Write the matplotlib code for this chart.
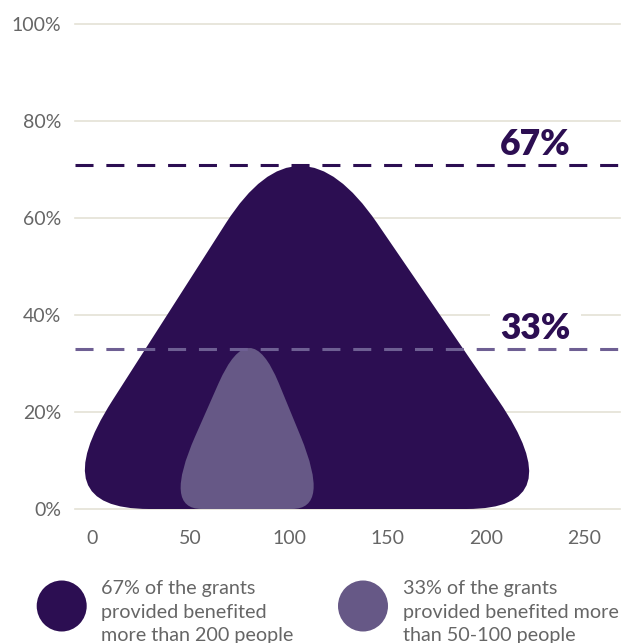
import matplotlib
matplotlib.use('Agg')
import matplotlib.pyplot as plt
from matplotlib.path import Path
from matplotlib.patches import PathPatch, Ellipse

plt.rcParams['font.family'] = ['Lato', 'DejaVu Sans']

# axis ticks
x_ticks = [0, 50, 100, 150, 200, 250]
y_ticks = [0, 20, 40, 60, 80, 100]
y_tick_labels = ['0%', '20%', '40%', '60%', '80%', '100%']

# the two rounded triangles (x of base ends, x / height of apex)
base_left = [-25, 36]
base_right = [244, 121]
apex_x = [105, 80]
apex_y = [82.5, 40.5]

# visible top of each shape and its label
top_levels = [71, 33]
top_labels = ['67%', '33%']

legend_texts = ['67% of the grants\nprovided benefited\nmore than 200 people',
                '33% of the grants\nprovided benefited more\nthan 50-100 people']

DARK = '#2c0e52'
LIGHT = '#665886'
colors = [DARK, LIGHT]
dash_colors = [DARK, '#6e5f93']
GRID = '#e4e2d6'
TEXT = '#666666'


def lerp(p, q, t):
    return (p[0] + (q[0] - p[0]) * t, p[1] + (q[1] - p[1]) * t)


# triangle with quadratic rounded corners
def rounded_triangle(x0, x1, xc, h, f_top, f_side, f_base):
    a = (x0, 0)
    b = (x1, 0)
    c = (xc, h)
    verts = [lerp(a, b, f_base), lerp(b, a, f_base),
             b, lerp(b, c, f_side),
             lerp(c, b, f_top),
             c, lerp(c, a, f_top),
             lerp(a, c, f_side),
             a, lerp(a, b, f_base),
             (0, 0)]
    codes = [Path.MOVETO, Path.LINETO,
             Path.CURVE3, Path.CURVE3,
             Path.LINETO,
             Path.CURVE3, Path.CURVE3,
             Path.LINETO,
             Path.CURVE3, Path.CURVE3,
             Path.CLOSEPOLY]
    return Path(verts, codes)


f_top = [0.285, 0.36]
f_side = [0.27, 0.37]
f_base = [0.2, 0.23]

fig = plt.figure(figsize=(6.4, 6.43), dpi=100)
ax = fig.add_axes([74.5 / 640, 1 - 509 / 643, 545.5 / 640, 485 / 643])
ax.set_xlim(-9, 268)
ax.set_ylim(0, 100)

for y in y_ticks:
    ax.axhline(y, color=GRID, lw=1.2, zorder=0, clip_on=False)

for i in range(2):
    p = rounded_triangle(base_left[i], base_right[i], apex_x[i], apex_y[i],
                         f_top[i], f_side[i], f_base[i])
    ax.add_patch(PathPatch(p, fc=colors[i], ec='none', zorder=2 + i))

for i in range(2):
    ax.axhline(top_levels[i], color=dash_colors[i], lw=2.2,
               ls=(0, (5.9, 4.2)), zorder=6)
    box = None
    if i == 1:
        box = dict(boxstyle='square,pad=0.3', fc='white', ec='none')
    ax.annotate(top_labels[i], xy=(225, top_levels[i]), xytext=(0, 7),
                textcoords='offset points', ha='center', va='baseline',
                fontsize=25.5, fontweight='heavy', color=DARK,
                bbox=box, zorder=5)

ax.set_xticks(x_ticks)
ax.set_yticks(y_ticks, y_tick_labels)
ax.tick_params(axis='both', length=0, labelsize=14, labelcolor=TEXT)
ax.tick_params(axis='y', pad=9.5)
ax.tick_params(axis='x', pad=15)
for s in ax.spines.values():
    s.set_visible(False)

# legend under the chart
leg_x = [61.7, 363]
txt_x = [101, 402.7]
for i in range(2):
    fig.add_artist(Ellipse((leg_x[i] / 640, 1 - 606 / 643), 50 / 640, 51 / 643,
                           transform=fig.transFigure, fc=colors[i], ec='none'))
    # baseline of the last line
    fig.text(txt_x[i] / 640, 1 - 641.5 / 643, legend_texts[i], ha='left',
             va='baseline', fontsize=14.2, color=TEXT, linespacing=1.48)

fig.savefig('out.png', dpi=100)
